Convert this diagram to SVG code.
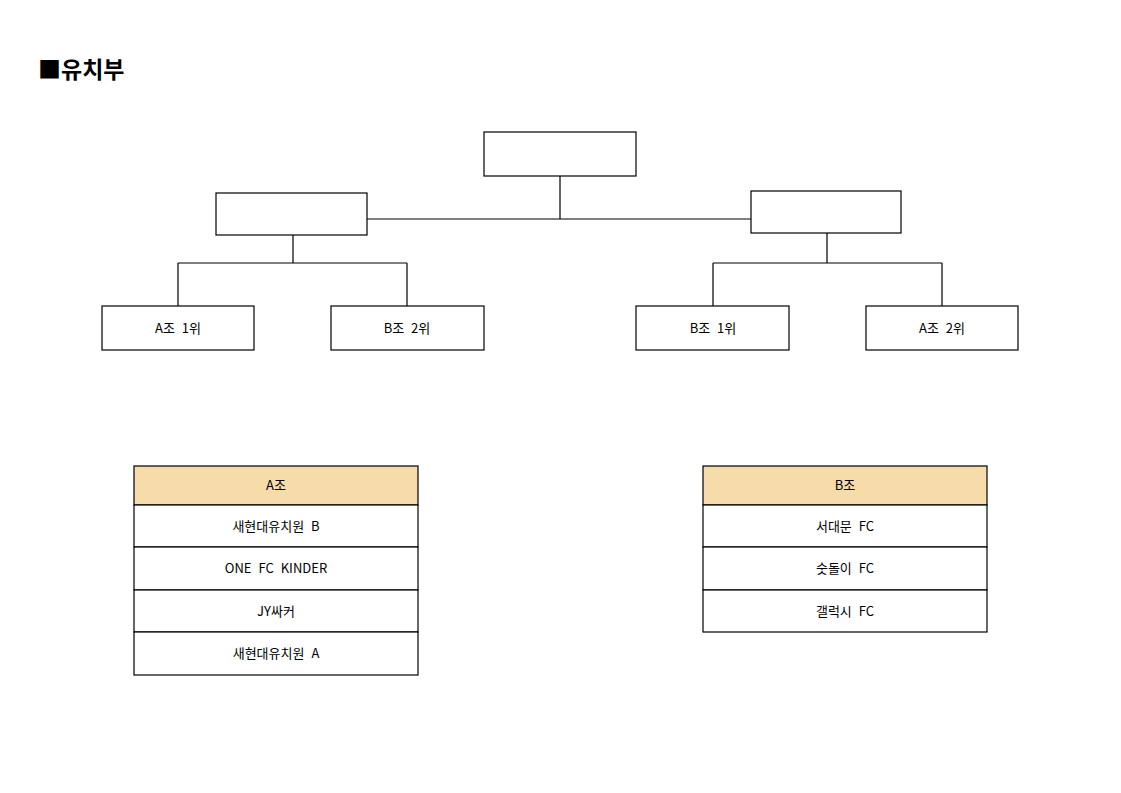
<svg xmlns="http://www.w3.org/2000/svg" width="1121" height="793" viewBox="0 0 1121 793">
<style>
.b{fill:#fff;stroke:#000;stroke-width:1.2}
.h{fill:#f6dcaa;stroke:#000;stroke-width:1.2}
.t{font-family:"Noto Sans CJK KR","Liberation Sans",sans-serif;font-size:13px;text-anchor:middle;fill:#000;word-spacing:4px}
.c{stroke:#000;stroke-width:1.2;fill:none}
</style>
<rect width="1121" height="793" fill="#fff"/>
<text x="38" y="78" font-family="'Noto Sans CJK KR',sans-serif" font-size="23" font-weight="bold">■유치부</text>
<g id="connectors">
<path class="c" d="M560 176V219M367 219H751M293 235V263M178 263H407M178 263V306M407 263V306M827 233V263M713 263H942M713 263V306M942 263V306"/>
</g>
<g id="final"><rect class="b" x="484" y="132" width="152" height="44"/></g>
<g id="semi-left"><rect class="b" x="216" y="193" width="151" height="42"/></g>
<g id="semi-right"><rect class="b" x="751" y="191" width="150" height="42"/></g>
<g id="a1"><rect class="b" x="102" y="306" width="152" height="44"/><text class="t" x="178" y="333">A조 1위</text></g>
<g id="b2"><rect class="b" x="331" y="306" width="153" height="44"/><text class="t" x="407" y="333">B조 2위</text></g>
<g id="b1"><rect class="b" x="636" y="306" width="153" height="44"/><text class="t" x="713" y="333">B조 1위</text></g>
<g id="a2"><rect class="b" x="866" y="306" width="152" height="44"/><text class="t" x="942" y="333">A조 2위</text></g>
<g id="tableA">
<rect class="h" x="134" y="466" width="284" height="39"/><text class="t" x="276" y="490">A조</text>
<rect class="b" x="134" y="505" width="284" height="42"/><text class="t" x="276" y="531">새현대유치원 B</text>
<rect class="b" x="134" y="547" width="284" height="43"/><text class="t" x="276" y="573">ONE FC KINDER</text>
<rect class="b" x="134" y="590" width="284" height="42"/><text class="t" x="276" y="616">JY싸커</text>
<rect class="b" x="134" y="632" width="284" height="43"/><text class="t" x="276" y="658">새현대유치원 A</text>
</g>
<g id="tableB">
<rect class="h" x="703" y="466" width="284" height="39"/><text class="t" x="845" y="490">B조</text>
<rect class="b" x="703" y="505" width="284" height="42"/><text class="t" x="845" y="531">서대문 FC</text>
<rect class="b" x="703" y="547" width="284" height="43"/><text class="t" x="845" y="573">숫돌이 FC</text>
<rect class="b" x="703" y="590" width="284" height="42"/><text class="t" x="845" y="616">갤럭시 FC</text>
</g>
</svg>
